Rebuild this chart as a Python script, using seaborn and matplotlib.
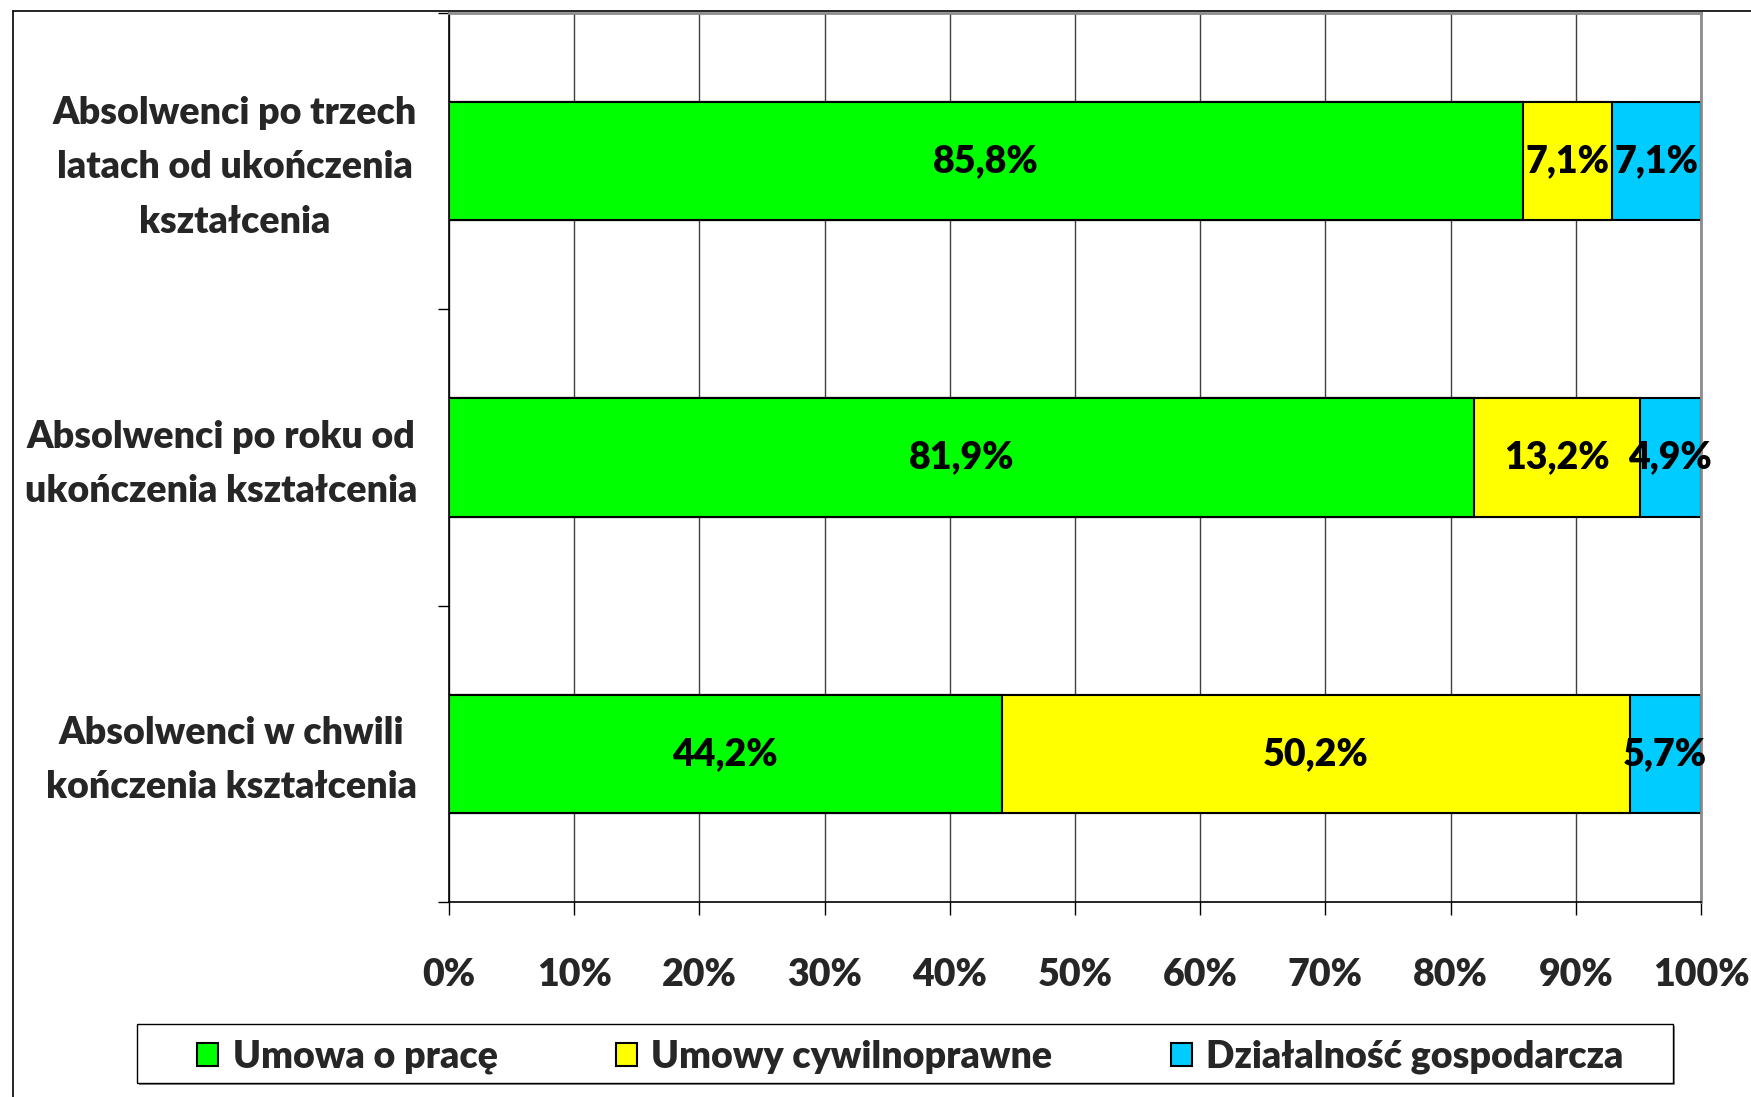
import numpy as np
import pandas as pd
import seaborn as sns
import matplotlib.pyplot as plt
from matplotlib.lines import Line2D
from matplotlib.patches import Patch, Rectangle
from matplotlib.transforms import ScaledTranslation

# dane
categories = ['Absolwenci po trzech\nlatach od ukończenia\nkształcenia',
              'Absolwenci po roku od\nukończenia kształcenia',
              'Absolwenci w chwili\nkończenia kształcenia']
umowa_o_prace = [85.8, 81.9, 44.2]
umowy_cywilnoprawne = [7.1, 13.2, 50.2]
dzialalnosc = [7.1, 4.9, 5.7]
series_names = ['Umowa o pracę', 'Umowy cywilnoprawne', 'Działalność gospodarcza']
colors = ['#00FF00', '#FFFF00', '#00CCFF']
xticks = list(range(0, 101, 10))

FS = 27
W = 'heavy'

sns.set_style('white')
plt.rcParams['font.family'] = ['Lato', 'DejaVu Sans']
plt.rcParams['font.weight'] = W

df = pd.DataFrame({'cat': categories, 'a': umowa_o_prace,
                   'b': umowy_cywilnoprawne, 'c': dzialalnosc})
total = df[['a', 'b', 'c']].sum(axis=1)
# wykres 100% skumulowany
for col in ['a', 'b', 'c']:
    df[col + '_n'] = df[col] / total * 100
df['cum1'] = df['a_n']
df['cum2'] = df['a_n'] + df['b_n']
df['cum3'] = df['cum2'] + df['c_n']

fig = plt.figure(figsize=(17.51, 10.97), dpi=100)
ax = fig.add_axes([449 / 1751, 1 - 902 / 1097, (1701 - 449) / 1751, (902 - 13) / 1097])

for col, color in zip(['cum3', 'cum2', 'cum1'], colors[::-1]):
    sns.barplot(data=df, x=col, y='cat', orient='h', color=color, saturation=1,
                width=0.4, edgecolor='black', linewidth=1.5, ax=ax)

# etykiety wartości
for i in range(len(categories)):
    left = 0
    for col in ['a', 'b', 'c']:
        w = df.loc[i, col + '_n']
        txt = f"{df.loc[i, col]:.1f}%".replace('.', ',')
        ax.text(left + w / 2, i, txt, ha='center', va='center',
                fontsize=FS, fontweight=W, color='black')
        left += w

ax.set_xlim(0, 100)
ax.set_ylim(2.5, -0.5)
ax.set_xticks(xticks)
ax.set_xticklabels([f'{t}%' for t in xticks], fontsize=FS, fontweight=W)
ax.set_yticks(range(len(categories)))
ax.set_yticklabels(categories, fontsize=FS, fontweight=W, multialignment='center',
                   linespacing=1.73)
ax.set_yticks([-0.5, 0.5, 1.5, 2.5], minor=True)
ax.tick_params(axis='y', which='major', length=0, pad=23)
ax.tick_params(axis='y', which='minor', length=8, width=1, color='black', direction='out', left=True)
ax.tick_params(axis='x', length=9, width=1, color='black', direction='out', bottom=True, pad=31)
ax.set_xlabel('')
ax.set_ylabel('')

# lekkie przesunięcie etykiet kategorii w górę
shift = ScaledTranslation(0, 5 / 72, fig.dpi_scale_trans)
for tick in ax.yaxis.get_major_ticks():
    tick.label1.set_transform(tick.label1.get_transform() + shift)

ax.grid(axis='x', color='#404040', linewidth=1)
ax.set_axisbelow(True)
for s in ['left', 'bottom']:
    ax.spines[s].set_color('black')
    ax.spines[s].set_linewidth(1.2)
for s in ['top', 'right']:
    ax.spines[s].set_color('#8c8c8c')
    ax.spines[s].set_linewidth(2)

# ramka legendy z cieniem
lx, ly, lw, lh = 137 / 1751, 1 - 1083 / 1097, (1673 - 137) / 1751, (1083 - 1024) / 1097
fig.add_artist(Rectangle((lx + 2 / 1751, ly - 2 / 1097), lw, lh, transform=fig.transFigure,
                         facecolor='#8c8c8c', edgecolor='none'))
fig.add_artist(Rectangle((lx, ly), lw, lh, transform=fig.transFigure,
                         facecolor='white', edgecolor='black', linewidth=1))

handles = [Patch(facecolor=c, edgecolor='black', linewidth=1.5) for c in colors]
leg = fig.legend(handles, series_names, loc='center',
                 bbox_to_anchor=(lx + lw / 2 + 0.003, ly + lh / 2 - 0.003),
                 ncol=3, frameon=False, prop={'size': FS, 'weight': W}, columnspacing=3.15,
                 handlelength=0.56, handleheight=0.56, handletextpad=0.39, borderpad=0.3)
leg.set_zorder(5)

# ramka obszaru wykresu (przycięta)
fig.add_artist(Line2D([13 / 1751, 1.0], [1 - 11 / 1097] * 2, transform=fig.transFigure,
                      color='black', linewidth=1.2))
fig.add_artist(Line2D([13 / 1751] * 2, [0, 1 - 11 / 1097], transform=fig.transFigure,
                      color='black', linewidth=1.2))

fig.savefig('out.png', dpi=100)
